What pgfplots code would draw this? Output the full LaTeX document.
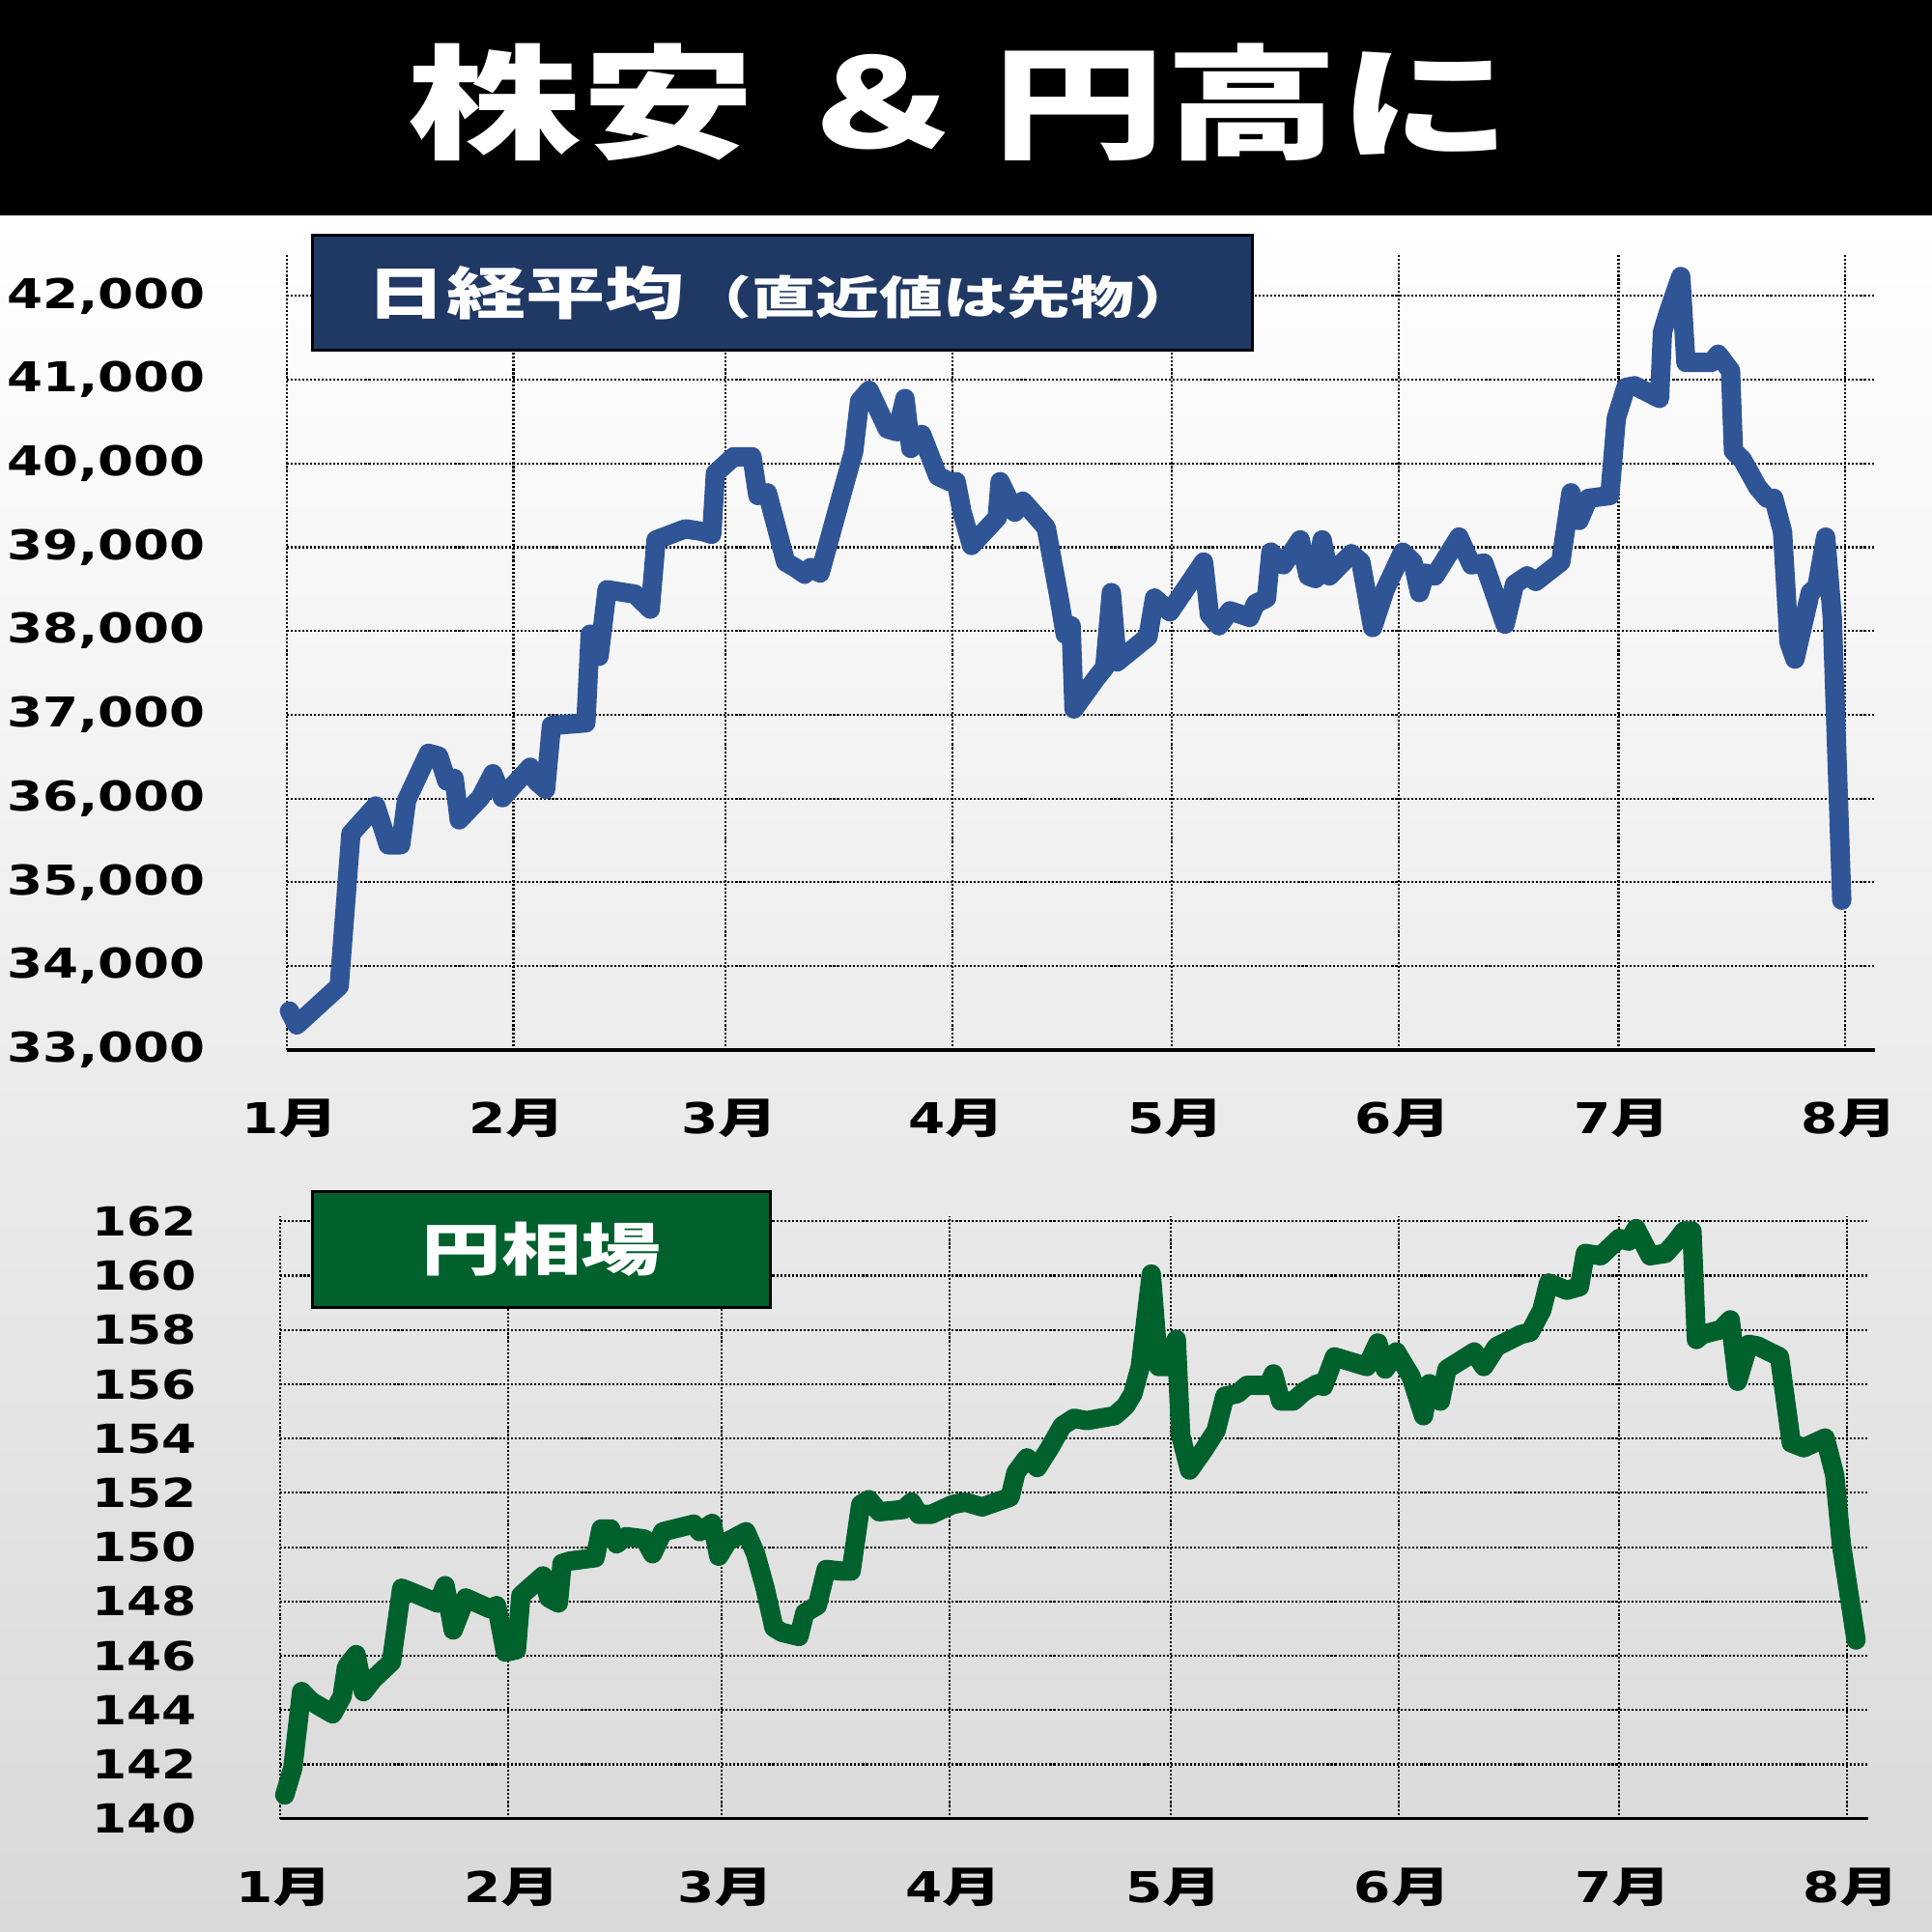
\documentclass[border=0pt]{standalone}
\usepackage{fontspec}
\usepackage{pgfplots}
\pgfplotsset{compat=1.18}
\newfontfamily\numf{DejaVu Sans}[FakeStretch=1.25]
\newfontfamily\jpf{Noto Sans CJK JP}[FakeStretch=1.4]
\definecolor{navybox}{RGB}{32,56,100}
\definecolor{greenbox}{RGB}{0,97,45}
\definecolor{nikkei}{RGB}{47,85,151}
\newcommand\mon[1]{{\numf\bfseries #1}{\jpf\bfseries 月}}

\pgfplotsset{
  chartstyle/.style={
    scale only axis,
    anchor=south west,
    clip=false,
    axis x line*=bottom,
    axis y line*=left,
    x axis line style={draw=black, line width=1pt},
    y axis line style={draw=none},
    major tick length=0pt,
    scaled y ticks=false,
    grid=major,
    major grid style={black, line width=0.6pt, dash pattern=on 0.6pt off 0.55pt},
    xtick={0,31,60,91,121,152,182,213},
    xticklabels={\mon{1},\mon{2},\mon{3},\mon{4},\mon{5},\mon{6},\mon{7},\mon{8}},
    xticklabel style={anchor=center, inner sep=0pt, yshift=-7.1mm, xshift=0.4mm,
      font=\fontsize{12.5}{14}\selectfont},
    yticklabel style={anchor=east, inner sep=0pt, xshift=-8.6mm},
  }
}

\begin{document}
\begin{tikzpicture}
\shade[top color=white, bottom color=black!15] (0,0) rectangle (200mm,177.7mm);
\fill[black] (0,177.7mm) rectangle (200mm,200mm);

% Nikkei average
\begin{axis}[chartstyle,
  at={(29.66mm,91.32mm)},
  width=164.41mm, height=82.38mm,
  xmin=0, xmax=217, ymin=33000, ymax=42500,
  ytick={33000,34000,35000,36000,37000,38000,39000,40000,41000,42000},
  yticklabels={{33,000},{34,000},{35,000},{36,000},{37,000},{38,000},{39,000},{40,000},{41,000},{42,000}},
  yticklabel style={font=\numf\bfseries\fontsize{12.1}{14}\selectfont, xshift=0.3mm},
]
\addplot[nikkei, line width=2mm, line join=round, line cap=round] coordinates {
(0.4,33463) (1.4,33297) (7.2,33760) (8.8,35581) (12.2,35911) (13.9,35448) (15.6,35448)
(16.4,35978) (19.4,36540) (20.8,36507) (21.9,36209) (22.9,36242) (23.6,35746) (26.5,36011)
(28.2,36295) (29.5,36011) (31.2,36176) (33.3,36375) (34.1,36209) (35.4,36110) (36.2,36871)
(40.9,36904) (41.5,37963) (42.7,37698) (43.8,38493) (47.6,38440) (49.7,38261) (50.5,39088)
(54.5,39220) (56.9,39187) (58.1,39154) (58.6,39882) (61.1,40081) (63.6,40081) (64.4,39617)
(65.7,39650) (68.2,38823) (69.5,38757) (70.8,38678) (71.6,38757) (72.9,38691) (75.4,39485)
(77.5,40147) (78.3,40743) (79.6,40875) (82.1,40412) (83.4,40379) (84.5,40776) (85.3,40180)
(86.8,40345) (89.0,39849) (90.6,39783) (91.5,39783) (92.3,39419) (93.6,39022) (97.1,39353)
(97.5,39783) (99.5,39419) (100.6,39551) (103.8,39234) (105.5,38426) (106.4,37963) (107.2,38062)
(107.6,37070) (110.6,37434) (111.8,37566) (112.7,38459) (113.5,37632) (117.7,37930) (118.6,38393)
(120.7,38228) (125.3,38823) (126.1,38195) (127.4,38062) (128.9,38241) (131.6,38162) (132.4,38327)
(133.9,38393) (134.5,38942) (136.2,38790) (138.5,39088) (139.6,38658) (140.6,38625) (141.5,39088)
(142.5,38658) (145.5,38923) (146.8,38823) (148.4,38042) (150.1,38492) (152.5,38942) (153.9,38823)
(154.8,38459) (155.6,38691) (156.9,38658) (160.2,39121) (161.9,38790) (163.6,38810) (166.5,38082)
(167.8,38559) (169.5,38658) (170.7,38592) (174.1,38823) (175.5,39650) (176.6,39320) (177.9,39584)
(180.8,39617) (181.7,40544) (183.0,40908) (184.2,40928) (187.6,40776) (188.0,41570) (188.8,41801)
(190.5,42232) (191.2,41206) (194.7,41206) (195.6,41305) (197.3,41107) (197.7,40147) (198.9,40048)
(201.0,39717) (202.3,39584) (203.2,39584) (204.4,39187) (205.3,37864) (206.1,37665) (208.2,38459)
(209.1,38526) (210.3,39121) (211.2,38162) (212.5,34786)
};
\end{axis}

% yen rate
\begin{axis}[chartstyle,
  at={(29.02mm,11.73mm)},
  width=164.41mm, height=62.40mm,
  xmin=0, xmax=215.9, ymin=140, ymax=162.2,
  ytick={140,142,...,162},
  yticklabel style={font=\numf\bfseries\fontsize{11.8}{14}\selectfont},
  yticklabel={\pgfmathprintnumber[assume math mode=true]{\tick}},
]
\addplot[greenbox, line width=2mm, line join=round, line cap=round] coordinates {
(0.6,140.87) (1.7,141.87) (2.9,144.68) (4.2,144.32) (7.1,143.86) (8.4,144.50) (9.0,145.59)
(10.3,146.04) (11.3,144.68) (12.6,145.13) (15.1,145.77) (16.5,148.49) (17.9,148.34) (21.4,147.94)
(22.4,148.58) (23.5,146.95) (25.2,148.13) (28.5,147.73) (29.4,147.85) (30.6,146.13) (32.1,146.22)
(32.7,148.22) (35.7,148.94) (36.5,148.13) (37.8,147.94) (38.3,149.40) (39.4,149.49) (42.8,149.61)
(43.6,150.67) (44.9,150.67) (45.7,150.12) (47.0,150.39) (49.5,150.30) (50.6,149.76) (52.0,150.57)
(56.2,150.85) (57.0,150.57) (58.7,150.88) (59.6,149.67) (60.8,150.21) (63.3,150.57) (64.6,149.76)
(65.9,148.49) (67.1,147.04) (68.2,146.86) (70.5,146.71) (71.3,147.58) (73.0,147.85) (74.2,149.18)
(76.3,149.12) (77.6,149.12) (78.9,151.57) (80.0,151.75) (81.4,151.30) (84.7,151.39) (85.8,151.66)
(86.8,151.21) (88.5,151.21) (91.4,151.57) (93.1,151.66) (95.4,151.48) (99.2,151.84) (100.0,152.75)
(101.5,153.29) (102.9,152.93) (104.6,153.66) (106.3,154.47) (107.9,154.75) (109.6,154.66)
(113.4,154.84) (114.9,155.20) (115.9,155.65) (116.9,156.65) (118.4,160.06) (119.4,156.65)
(120.5,156.65) (121.8,157.65) (122.4,154.11) (123.6,152.84) (125.5,153.57) (127.2,154.29)
(128.4,155.56) (130.1,155.65) (131.4,155.96) (134.3,155.96) (135.0,156.38) (136.0,155.38)
(137.7,155.38) (139.2,155.74) (141.0,156.02) (141.8,155.92) (143.3,157.01) (147.7,156.65)
(149.2,157.52) (150.2,156.56) (151.7,157.19) (153.7,156.29) (155.4,154.84) (156.2,156.02)
(157.7,155.38) (158.6,156.56) (160.2,156.83) (162.3,157.19) (163.6,156.65) (165.3,157.38)
(168.6,157.83) (169.9,157.92) (171.5,158.74) (172.4,159.73) (174.9,159.46) (176.6,159.59)
(177.4,160.82) (179.5,160.73) (182.0,161.37) (183.3,161.27) (184.3,161.73) (186.2,160.73)
(188.3,160.82) (189.5,161.18) (190.8,161.64) (191.9,161.64) (192.5,157.65) (193.3,157.83)
(195.8,158.01) (197.1,158.37) (198.1,156.11) (199.6,157.47) (200.8,157.41) (203.8,157.01)
(205.4,153.84) (207.1,153.66) (210.0,154.02) (211.3,152.66) (212.2,150.12) (214.2,146.58)
};
\end{axis}

% title band
\begin{scope}[every node/.style={text=white, inner sep=0pt, font=\jpf\bfseries\fontsize{36.4}{40}\selectfont}]
\node at (60.2mm,189.4mm) {株安};
\node at (91.2mm,189.4mm) {＆};
\node at (129.6mm,189.4mm) {円高に};
\end{scope}

% label boxes
\node[draw=black, line width=0.8pt, fill=navybox, anchor=north west, inner sep=0pt,
  minimum width=97.3mm, minimum height=11.9mm, text=white]
  at (32.2mm,175.8mm)
  {{\jpf\bfseries\fontsize{16.7}{20}\selectfont 日経平均}\hspace{0.4mm}{\jpf\bfseries\fontsize{13.4}{16}\selectfont （直近値は先物）}\hspace{-2.6mm}};
\node[draw=black, line width=0.8pt, fill=greenbox, anchor=north west, inner sep=0pt,
  minimum width=47.4mm, minimum height=12mm, text=white]
  at (32.2mm,76.8mm)
  {\jpf\bfseries\fontsize{16.8}{20}\selectfont 円相場};
\end{tikzpicture}
\end{document}
